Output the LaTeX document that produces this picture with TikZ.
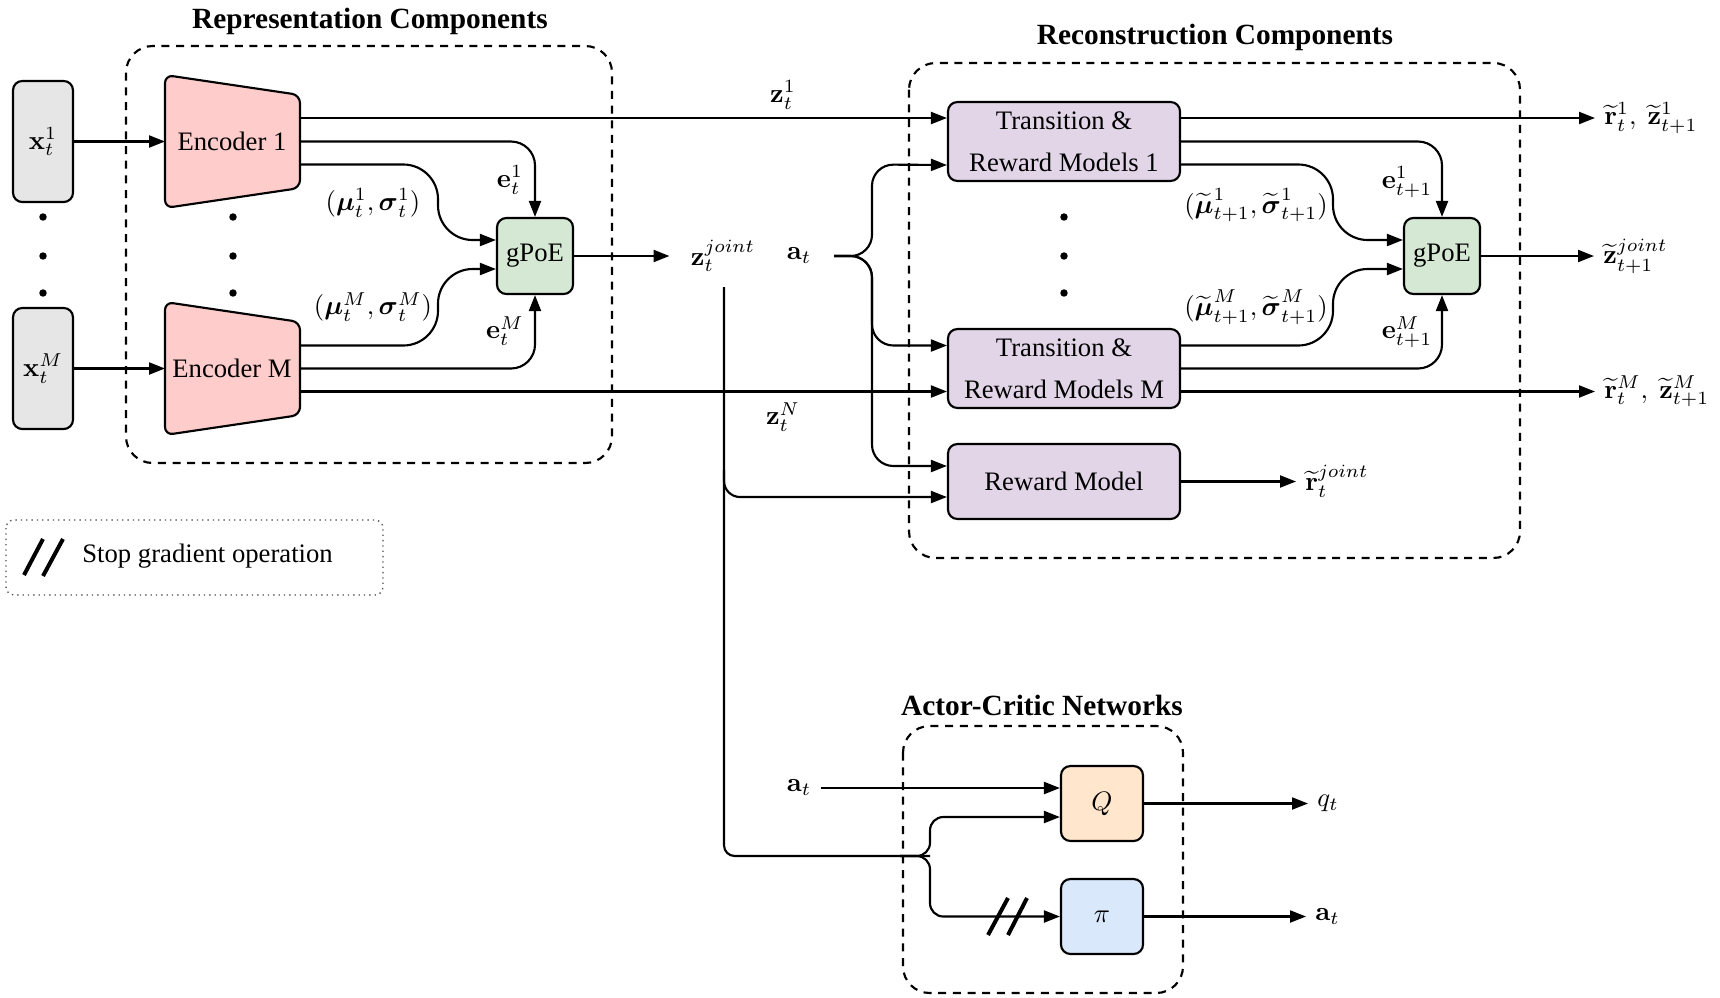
\documentclass[tikz,border=0pt]{standalone}
\usepackage{amsmath,amssymb}
\usepackage[no-math]{fontspec}
\setmainfont{Liberation Serif}
\usetikzlibrary{arrows.meta,calc}
\definecolor{inpgray}{HTML}{E6E6E6}
\definecolor{encpink}{HTML}{FFCCCC}
\definecolor{gpoegreen}{HTML}{D5E8D4}
\definecolor{purp}{HTML}{E1D5E7}
\definecolor{qorange}{HTML}{FFE6CC}
\definecolor{piblue}{HTML}{DAE8FC}
\begin{document}
\begin{tikzpicture}[x=0.375pt,y=-0.375pt,
  every node/.style={font=\normalsize},
  blk/.style={draw,line width=0.8pt,rounded corners=3.5pt,inner sep=0pt,align=center},
  arr/.style={line width=0.8pt,-{Triangle[length=6pt,width=4.5pt]}},
  ln/.style={line width=0.8pt},
  grp/.style={draw,line width=0.8pt,dash pattern=on 3pt off 2.5pt,rounded corners=10pt},
  ttl/.style={font=\fontsize{11}{13}\selectfont\bfseries},
  bdot/.style={circle,fill,inner sep=0pt,minimum size=2.8pt},
  trbox/.style={blk,fill=purp,minimum width=87pt,minimum height=29.6pt},
  gbox/.style={blk,fill=gpoegreen,minimum width=28.5pt,minimum height=28.5pt},
  acbox/.style={blk,minimum width=30.75pt,minimum height=28.1pt},
  sgmark/.style={line width=1.5pt},
]
\useasboundingbox (0,0) rectangle (1720,997);

% containers
\draw[grp] (126,46) rectangle (612,463);
\draw[grp] (909,63) rectangle (1520,558);
\draw[grp] (903,726) rectangle (1183,993);
\node[ttl] (ttlrep) at (370,21) {Representation Components};
\node[ttl] (ttlrec) at (1215,37) {Reconstruction Components};
\node[ttl] (ttlac) at (1042,705) {Actor-Critic Networks};

% inputs
\node[blk,fill=inpgray,minimum width=22.5pt,minimum height=45.4pt] (x1) at (43,141.5) {$\mathbf{x}_t^1$};
\node[blk,fill=inpgray,minimum width=22.5pt,minimum height=45.4pt] (xM) at (43,368.5) {$\mathbf{x}_t^M$};
\foreach \yy/\nm in {217/a,256/b,293/c}{
  \node[bdot] (dl\nm) at (43,\yy) {};
  \node[bdot] (dm\nm) at (233,\yy) {};
  \node[bdot] (dr\nm) at (1064,\yy) {};
}

% encoders
\draw[ln,fill=encpink,rounded corners=3pt] (165,75) -- (300,95) -- (300,188) -- (165,208) -- cycle;
\node (enc1) at (232,141.5) {Encoder 1};
\draw[ln,fill=encpink,rounded corners=3pt] (165,302) -- (300,322) -- (300,415) -- (165,435) -- cycle;
\node (encM) at (232,368.5) {Encoder M};
\coordinate (enc1in) at (165,141.5);
\coordinate (encMin) at (165,368.5);
\draw[arr] (x1.east) -- (enc1in);
\draw[arr] (xM.east) -- (encMin);
\coordinate (e1a) at (300,118);
\coordinate (e1b) at (300,141.5);
\coordinate (e1c) at (300,164.5);
\coordinate (eMa) at (300,345.5);
\coordinate (eMb) at (300,368.5);
\coordinate (eMc) at (300,391.5);

% gPoE left
\node[gbox] (g1) at (535,256) {gPoE};
\draw[arr,rounded corners=9pt] (e1b) -| (g1.north);
\draw[arr,rounded corners=13pt] (e1c) -- (438,164.5) -- (438,240) -- ($(g1.west)+(0,-16)$);
\draw[arr,rounded corners=13pt] (eMa) -- (438,345.5) -- (438,269) -- ($(g1.west)+(0,13)$);
\draw[arr,rounded corners=9pt] (eMb) -| (g1.south);
\node (lmu1) at (373,203) {$(\boldsymbol{\mu}_t^1,\boldsymbol{\sigma}_t^1)$};
\node (le1) at (510,180) {$\mathbf{e}_t^1$};
\node (lmuM) at (373,307) {$(\boldsymbol{\mu}_t^M,\boldsymbol{\sigma}_t^M)$};
\node (leM) at (505,331) {$\mathbf{e}_t^M$};

% reconstruction models
\node[trbox] (T1) at (1064,141.5) {Transition \&\\[3.75pt]Reward Models 1};
\node[trbox] (TM) at (1064,368.5) {Transition \&\\[3.75pt]Reward Models M};
\node[blk,fill=purp,minimum width=87pt,minimum height=28.1pt] (RM) at (1064,481.5) {Reward Model};
\coordinate (t1in1) at ($(T1.west)+(0,-23.5)$);
\coordinate (t1in2) at ($(T1.west)+(0,23.5)$);
\coordinate (tMin1) at ($(TM.west)+(0,-23)$);
\coordinate (tMin2) at ($(TM.west)+(0,23)$);
\coordinate (rmin1) at ($(RM.west)+(0,-15.5)$);
\coordinate (rmin2) at ($(RM.west)+(0,15.5)$);

% z lines
\draw[arr] (e1a) -- (t1in1);
\draw[arr] (eMc) -- (tMin2);
\node (lz1) at (783,95) {$\mathbf{z}_t^1$};
\node (lzN) at (783,417) {$\mathbf{z}_t^N$};

% z joint
\node (zj) at (723,256) {$\mathbf{z}_t^{joint}$};
\draw[arr,shorten >=4.5pt] (g1.east) -- (zj.west);
\node (at1) at (799,256) {$\mathbf{a}_t$};
\coordinate (abr) at (834,256);
\draw[arr,rounded corners=8pt] (abr) -- (872,256) -- (872,164.5) -- (t1in2);
\draw[arr,rounded corners=8pt] (abr) -- (872,256) -- (872,345.5) -- (tMin1);
\draw[arr,rounded corners=8pt] (abr) -- (872,256) -- (872,466) -- (rmin1);

\coordinate (zjtop) at (724,287);
\coordinate (zjbot) at (724,856);
\coordinate (acbr) at (930,856);
\draw[ln,rounded corners=4pt] (zjtop) -- (zjbot) -- (acbr);
\draw[arr,rounded corners=6pt] (724,470) -- (724,497) -- (rmin2);

% reconstruction outputs
\coordinate (t1a) at ($(T1.east)+(0,-23.5)$);
\coordinate (t1b) at (T1.east);
\coordinate (t1c) at ($(T1.east)+(0,23)$);
\coordinate (tMa) at ($(TM.east)+(0,-23)$);
\coordinate (tMb) at (TM.east);
\coordinate (tMc) at ($(TM.east)+(0,23)$);
\node[gbox] (g2) at (1442,256) {gPoE};
\node[anchor=west] (o1) at (1595,118) {$\widetilde{\mathbf{r}}_t^1,\ \widetilde{\mathbf{z}}_{t+1}^1$};
\node[anchor=west] (oM) at (1595,391.5) {$\widetilde{\mathbf{r}}_t^M,\ \widetilde{\mathbf{z}}_{t+1}^M$};
\node[anchor=west] (ozj) at (1594,256) {$\widetilde{\mathbf{z}}_{t+1}^{joint}$};
\node[anchor=west] (orj) at (1296,481.5) {$\widetilde{\mathbf{r}}_t^{joint}$};
\draw[arr] (t1a) -- (o1.west);
\draw[arr] (tMc) -- (oM.west);
\draw[arr] (g2.east) -- (ozj.west);
\draw[arr] (RM.east) -- (orj.west);
\draw[arr,rounded corners=9pt] (t1b) -| (g2.north);
\draw[arr,rounded corners=13pt] (t1c) -- (1333,164.5) -- (1333,240) -- ($(g2.west)+(0,-16)$);
\draw[arr,rounded corners=13pt] (tMa) -- (1333,345.5) -- (1333,269) -- ($(g2.west)+(0,13)$);
\draw[arr,rounded corners=9pt] (tMb) -| (g2.south);
\node (lmt1) at (1256,205) {$(\widetilde{\boldsymbol{\mu}}_{t+1}^1,\widetilde{\boldsymbol{\sigma}}_{t+1}^1)$};
\node (le21) at (1407,182) {$\mathbf{e}_{t+1}^1$};
\node (lmtM) at (1256,307) {$(\widetilde{\boldsymbol{\mu}}_{t+1}^M,\widetilde{\boldsymbol{\sigma}}_{t+1}^M)$};
\node (le2M) at (1407,332) {$\mathbf{e}_{t+1}^M$};

% actor-critic
\node[acbox,fill=qorange] (Q) at (1102,803.5) {$Q$};
\node[acbox,fill=piblue] (P) at (1102,916.5) {$\pi$};
\coordinate (qin1) at ($(Q.west)+(0,-15.5)$);
\coordinate (qin2) at ($(Q.west)+(0,13.5)$);
\node (at2) at (799,788) {$\mathbf{a}_t$};
\draw[arr] (at2.east) -- (qin1);
\draw[arr,rounded corners=5pt] (900,856) -- (acbr) -- (930,817) -- (qin2);
\draw[arr,rounded corners=5pt] (900,856) -- (acbr) -- (930,916.5) -- (P.west);
\draw[sgmark] (988,935) -- (1008,898);
\draw[sgmark] (1008,935) -- (1027,898);
\node[anchor=west] (qt) at (1308,803.5) {$q_t$};
\node[anchor=west] (at3) at (1306,916.5) {$\mathbf{a}_t$};
\draw[arr] (Q.east) -- (qt.west);
\draw[arr] (P.east) -- (at3.west);

% legend
\draw[line width=0.5pt,dash pattern=on 0.5pt off 1.5pt,rounded corners=3pt,draw=black!70] (6,520) rectangle (383,595);
\draw[sgmark] (24,575) -- (43,539);
\draw[sgmark] (43,576) -- (63,539);
\node[anchor=west] (sg) at (73,556) {Stop gradient operation};
\end{tikzpicture}
\end{document}
